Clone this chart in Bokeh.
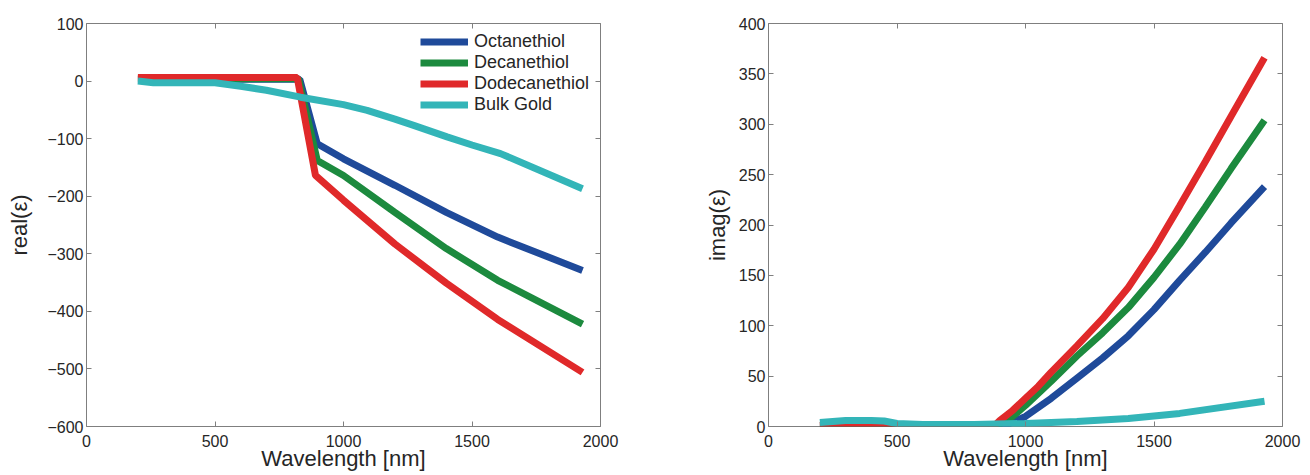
from bokeh.plotting import figure
from bokeh.layouts import row
from bokeh.models import Range1d, FixedTicker, LinearAxis, Legend, LegendItem
from bokeh.embed import file_html
from bokeh.resources import INLINE

# ---------------- data: real(eps) ----------------
x_re_oct = [200, 500, 830, 898, 1000, 1200, 1400, 1600, 1930]
re_oct = [3, 3, 3, -109, -135, -181, -228, -271, -329]
x_re_dec = [200, 500, 825, 898, 1000, 1200, 1400, 1600, 1930]
re_dec = [4, 4, 4, -138, -164, -228, -291, -346, -422]
x_re_dod = [200, 500, 820, 891, 1000, 1200, 1400, 1600, 1930]
re_dod = [6, 6, 6, -164, -207, -283, -351, -414, -506]
x_re_gold = [200, 260, 500, 600, 700, 833, 1000, 1092, 1200, 1273, 1403, 1500, 1611, 1930]
re_gold = [0, -3, -3, -9, -16, -28, -41, -51, -66, -77, -97, -111, -126, -187]

# ---------------- data: imag(eps) ----------------
x_im_oct = [200, 300, 400, 500, 700, 920, 1000, 1100, 1200, 1300, 1400, 1500, 1600, 1700, 1800, 1930]
im_oct = [1, 1, 2, 1, 1, 1, 10, 28, 48, 68, 90, 116, 145, 173, 202, 238]
x_im_dec = [200, 300, 400, 500, 700, 890, 950, 1000, 1100, 1200, 1300, 1400, 1500, 1600, 1700, 1800, 1930]
im_dec = [1, 1, 2, 1, 1, 1, 10, 21, 45, 70, 93, 118, 148, 181, 218, 256, 304]
x_im_dod = [200, 300, 400, 500, 700, 880, 900, 950, 1000, 1050, 1100, 1200, 1300, 1400, 1500, 1600, 1700, 1800, 1930]
im_dod = [1, 2, 2, 1, 1, 1, 6, 16, 28, 40, 54, 80, 107, 138, 176, 219, 263, 308, 366]
x_im_gold = [200, 300, 400, 450, 500, 600, 800, 1000, 1200, 1400, 1600, 1930]
im_gold = [4, 6, 6, 5.5, 3, 2, 2, 3, 5, 8, 13, 25]

series_names = ["Octanethiol", "Decanethiol", "Dodecanethiol", "Bulk Gold"]
colors = ["#1f4a9a", "#1c8a3e", "#e0292a", "#33b5b8"]

x_ticks = [0, 500, 1000, 1500, 2000]
re_ticks = [100, 0, -100, -200, -300, -400, -500, -600]
im_ticks = [0, 50, 100, 150, 200, 250, 300, 350, 400]

FONT = "Liberation Sans"
TXT = "#262626"
FRAME = "#7f7f7f"


def style(p, xt, yt, ylabel, ystand):
    p.xgrid.grid_line_color = None
    p.ygrid.grid_line_color = None
    p.outline_line_color = FRAME
    p.outline_line_width = 1
    p.outline_line_alpha = 1
    for ax in [p.xaxis[0], p.yaxis[0]]:
        ax.axis_line_color = None
        ax.major_tick_line_color = FRAME
        ax.major_tick_in = 5
        ax.major_tick_out = 0
        ax.minor_tick_line_color = None
        ax.major_label_text_font = FONT
        ax.major_label_text_font_size = "16px"
        ax.major_label_text_color = TXT
        ax.axis_label_text_font = FONT
        ax.axis_label_text_font_size = "22px"
        ax.axis_label_text_font_style = "normal"
        ax.axis_label_text_color = TXT
    p.xaxis[0].ticker = FixedTicker(ticks=xt)
    p.yaxis[0].ticker = FixedTicker(ticks=yt)
    p.xaxis[0].axis_label = "Wavelength [nm]"
    p.xaxis[0].major_label_standoff = 8
    p.xaxis[0].axis_label_standoff = -4
    p.yaxis[0].axis_label = ylabel
    p.yaxis[0].major_label_standoff = 3
    p.yaxis[0].axis_label_standoff = ystand
    # mirrored ticks on top / right
    top = LinearAxis(ticker=FixedTicker(ticks=xt))
    right = LinearAxis(ticker=FixedTicker(ticks=yt))
    for ax in [top, right]:
        ax.axis_line_color = None
        ax.major_tick_line_color = FRAME
        ax.major_tick_in = 5
        ax.major_tick_out = 0
        ax.minor_tick_line_color = None
        ax.major_label_text_font_size = "0px"
        ax.major_label_text_alpha = 0
        ax.major_label_standoff = 0
    p.add_layout(top, "above")
    p.add_layout(right, "right")


# ---------------- left panel ----------------
p1 = figure(width=650, height=475, x_range=Range1d(0, 2000), y_range=Range1d(-600, 100),
            min_border_left=86, min_border_right=50, min_border_top=23, min_border_bottom=49,
            output_backend="svg", toolbar_location=None)
style(p1, x_ticks, re_ticks, "real(ε)", 12)

r_list = []
for xs, ys, c in [(x_re_oct, re_oct, colors[0]), (x_re_dec, re_dec, colors[1]),
                  (x_re_dod, re_dod, colors[2]), (x_re_gold, re_gold, colors[3])]:
    r_list.append(p1.line(xs, ys, line_color=c, line_width=7))

legend = Legend(items=[LegendItem(label=n, renderers=[r]) for n, r in zip(series_names, r_list)],
                location=(334, 311))
legend.border_line_color = None
legend.background_fill_alpha = 0
legend.padding = 0
legend.margin = 0
legend.spacing = 0
legend.glyph_width = 48
legend.glyph_height = 19
legend.label_height = 19
legend.label_standoff = 6
legend.label_text_font = FONT
legend.label_text_font_size = "18px"
legend.label_text_color = TXT
p1.add_layout(legend, "center")

# ---------------- right panel ----------------
p2 = figure(width=660, height=475, x_range=Range1d(0, 2000), y_range=Range1d(0, 400),
            min_border_left=118, min_border_right=28, min_border_top=23, min_border_bottom=49,
            output_backend="svg", toolbar_location=None)
style(p2, x_ticks, im_ticks, "imag(ε)", 6)
for xs, ys, c in [(x_im_oct, im_oct, colors[0]), (x_im_dec, im_dec, colors[1]),
                  (x_im_dod, im_dod, colors[2]), (x_im_gold, im_gold, colors[3])]:
    p2.line(xs, ys, line_color=c, line_width=7)

layout = row(p1, p2)
open("out.html", "w").write(file_html(layout, INLINE))
